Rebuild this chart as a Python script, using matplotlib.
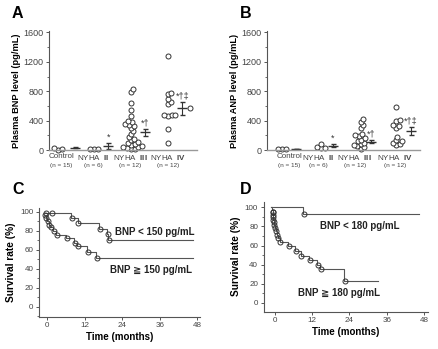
import numpy as np
import matplotlib
matplotlib.use('Agg')
import matplotlib.pyplot as plt
from matplotlib.ticker import MultipleLocator

plt.rcParams['font.family'] = ['Liberation Sans', 'DejaVu Sans']
plt.rcParams['mathtext.fontset'] = 'custom'
plt.rcParams['mathtext.rm'] = 'Liberation Sans'
plt.rcParams['mathtext.bf'] = 'Liberation Sans:bold'

# ---- data ----
grade = ['', 'II', 'III', 'IV']
n_labels = ['(n = 15)', '(n = 6)', '(n = 12)', '(n = 12)']
marks = ['', '*', '*\u2020', '*\u2020\u2021']

bnp_control = [5, 12, 25]
bnp_nyha2 = [8, 12, 18]
bnp_nyha3 = [835, 790, 640, 545, 460, 400, 380, 360, 345, 330, 300, 260, 220,
             175, 150, 130, 110, 100, 80, 70, 55, 45, 35, 25, 15, 10]
bnp_nyha4 = [1280, 780, 760, 690, 650, 630, 480, 470, 470, 460, 290, 90]
bnp_nyha4_extra = [570]
bnp_mean = [30, 55, 240, 565]
bnp_se = [8, 35, 43, 85]

anp_control = [8, 12, 18]
anp_nyha2 = [85, 35, 30, 25]
anp_nyha3 = [420, 380, 340, 300, 220, 200, 185, 160, 140, 120, 100, 85,
             65, 50, 40, 20]
anp_nyha4 = [580, 410, 395, 340, 320, 300, 180, 130, 120, 100, 80, 70]
anp_mean = [15, 55, 115, 255]
anp_se = [5, 20, 15, 55]

# Kaplan-Meier: start level, drop times, levels after drops, censor times
c_hi_start, c_hi_end = -0.6, 46.6
c_hi_drops = [7.6, 9.7, 16.6, 19.2, 19.5]
c_hi_levels = [99, 93, 88, 82, 77, 70]
c_hi_censor = [-0.4, 1.5, 7.8, 10.0, 16.9, 19.3, 19.6]

c_lo_start, c_lo_end = -0.9, 46.6
c_lo_drops = [-0.5, 0.0, 0.5, 1.0, 2.0, 2.9, 5.9, 8.5, 9.5, 12.6, 15.7]
c_lo_levels = [97, 93.5, 90, 86.5, 83.5, 79.5, 75.5, 72, 67.5, 64, 58, 51.5]
c_lo_censor = [-0.8, -0.3, 0.2, 0.7, 1.2, 2.2, 3.1, 6.2, 8.8, 9.8, 13.0, 16.0]

d_hi_start, d_hi_end = -1.0, 46.3
d_hi_drops = [9.2]
d_hi_levels = [100, 93]
d_hi_censor = [9.4]

d_lo_start, d_lo_end = -1.0, 33.2
d_lo_drops = [-0.7, -0.65, -0.6, -0.45, -0.4, -0.25, -0.2, 0.05, 0.35, 0.8,
              1.15, 1.6, 4.3, 6.6, 8.4, 11.0, 13.7, 14.7, 22.3]
d_lo_levels = [100, 97.5, 94.7, 92.3, 89.8, 87, 84.2, 81.5, 78.3, 74.8, 71.3,
               67.8, 64.2, 60, 54, 49.5, 45, 39.7, 35, 23]
d_lo_censor = [-0.64, -0.62, -0.58, -0.42, -0.38, -0.22, -0.18, 0.1, 0.4,
               0.85, 1.2, 1.7, 4.5, 6.8, 8.6, 11.3, 14.0, 14.9, 22.5]

ink = '#333333'
msize = 3.6


def swarm(ax, x0, values, diam=3.9):
    # simple beeswarm in display space (circles may overlap a little)
    tr = ax.transData
    pts = tr.transform([(x0, v) for v in values])
    placed = []
    for px, py in sorted(pts, key=lambda p: p[1]):
        cands = [0.0]
        for qx, qy in placed:
            dy = py - qy
            if abs(dy) < diam:
                dx = np.sqrt(diam ** 2 - dy ** 2)
                cands += [qx - px + dx, qx - px - dx]
        cands.sort(key=abs)
        for c in cands:
            ok = all((px + c - qx) ** 2 + (py - qy) ** 2 >= diam ** 2 - 1e-6
                     for qx, qy in placed)
            if ok:
                placed.append((px + c, py))
                break
    xy = tr.inverted().transform(placed)
    ax.plot(xy[:, 0], xy[:, 1], 'o', ms=msize, mfc='white', mec=ink,
            mew=0.7, clip_on=False)


def scatter_panel(ax, groups, means, ses, xs, xm, xl, xmax, ylabel, extra=None):
    ax.set_xlim(0, xmax)
    ax.set_ylim(0, 1620)
    for x0, vals in zip(xs, groups):
        swarm(ax, x0, vals)
    if extra is not None:
        ax.plot(extra[0], extra[1], 'o', ms=msize, mfc='white', mec=ink, mew=0.7)
    ax.errorbar(xm, means, yerr=ses, fmt='_', ms=6.5, mew=1.0, color=ink,
                elinewidth=0.8, capsize=1.8, capthick=0.8)
    for x, m, s, mk in zip(xm, means, ses, marks):
        if mk:
            ax.annotate(mk, (x, m + s), xytext=(0, 1.5), textcoords='offset points',
                        ha='center', va='bottom', fontsize=6.5, color=ink)
    for x, g, n in zip(xl, grade, n_labels):
        lab = 'Control' if not g else 'NYHA  $\\mathbf{%s}$' % g
        ax.annotate(lab, (x, 0), xycoords=('data', 'axes fraction'),
                    xytext=(0, -2.5), textcoords='offset points', ha='center',
                    va='top', fontsize=5.8, color='#444444')
        ax.annotate(n, (x, 0), xycoords=('data', 'axes fraction'),
                    xytext=(0, -9.5), textcoords='offset points', ha='center',
                    va='top', fontsize=4.6, color='#444444')
    ax.spines[['top', 'right']].set_visible(False)
    ax.spines['left'].set_color('#555555')
    ax.spines['bottom'].set_color('#999999')
    ax.spines['left'].set_linewidth(0.8)
    ax.spines['bottom'].set_linewidth(1.0)
    ax.set_xticks([])
    ax.set_yticks([0, 400, 800, 1200, 1600])
    ax.yaxis.set_minor_locator(MultipleLocator(200))
    ax.tick_params(axis='y', which='major', length=2.5, width=0.7, pad=1.5,
                   labelsize=6.5, colors='#555555', labelcolor='#444444')
    ax.tick_params(axis='y', which='minor', length=1.5, width=0.6, colors='#555555')
    ax.set_ylabel(ylabel, fontsize=6.7, fontweight='bold', labelpad=2)


def km(ax, start, end, drops, levels, censor):
    t = [start] + list(drops) + [end]
    s = list(levels) + [levels[-1]]
    ax.step(t, s, where='post', color='#555555', lw=0.8)
    idx = np.searchsorted(drops, censor, side='right')
    ax.plot(censor, np.array(levels)[idx], 'o', ms=msize, mfc='none', mec=ink,
            mew=0.7)


def km_axes(ax, xlim, ylim):
    ax.set_xlim(*xlim)
    ax.set_ylim(*ylim)
    ax.spines[['top', 'right']].set_visible(False)
    for sp in ['left', 'bottom']:
        ax.spines[sp].set_color('#555555')
        ax.spines[sp].set_linewidth(0.8)
    ax.set_xticks([0, 12, 24, 36, 48])
    ax.set_yticks([0, 20, 40, 60, 80, 100])
    ax.yaxis.set_minor_locator(MultipleLocator(10))
    ax.tick_params(which='major', length=2.5, width=0.7, pad=1.5, labelsize=5.8,
                   colors='#555555', labelcolor='#444444')
    ax.tick_params(which='minor', length=1.5, width=0.6, colors='#555555')
    ax.set_ylabel('Survival rate (%)', fontsize=7.3, fontweight='bold', labelpad=3)
    ax.set_xlabel('Time (months)', fontsize=7, fontweight='bold', labelpad=2)


fig = plt.figure(figsize=(4.38, 3.49), dpi=100)
W, H = 438.0, 349.0

axA = fig.add_axes([49 / W, 1 - 150 / H, 148 / W, 119 / H])
scatter_panel(axA, [bnp_control, bnp_nyha2, bnp_nyha3, bnp_nyha4], bnp_mean, bnp_se,
              [0.24, 1.25, 2.27, 3.3], [0.72, 1.65, 2.68, 3.7],
              [0.35, 1.23, 2.25, 3.31], 148 / 36,
              'Plasma BNP level (pg/mL)', extra=([3.92], bnp_nyha4_extra))

axB = fig.add_axes([267 / W, 1 - 150 / H, 153 / W, 119 / H])
scatter_panel(axB, [anp_control, anp_nyha2, anp_nyha3, anp_nyha4], anp_mean, anp_se,
              [0.42, 1.5, 2.6, 3.58], [0.8, 1.83, 2.9, 4.0],
              [0.63, 1.42, 2.44, 3.55], 153 / 36,
              'Plasma ANP level (pg/mL)')

axC = fig.add_axes([39 / W, 1 - 316.7 / H, 161 / W, 108.4 / H])
km_axes(axC, (-2.6, 48.8), (-10.5, 103.6))
km(axC, c_hi_start, c_hi_end, c_hi_drops, c_hi_levels, c_hi_censor)
km(axC, c_lo_start, c_lo_end, c_lo_drops, c_lo_levels, c_lo_censor)
axC.text(21.6, 79, 'BNP < 150 pg/mL', fontsize=7, fontweight='bold',
         va='center', ha='left', color='#222222')
axC.text(20.0, 38.6, 'BNP \u2267 150 pg/mL', fontsize=7, fontweight='bold',
         va='center', ha='left', color='#222222')

axD = fig.add_axes([263.7 / W, 1 - 311.7 / H, 164.3 / W, 110 / H])
km_axes(axD, (-3.5, 49.2), (-9.5, 106))
km(axD, d_hi_start, d_hi_end, d_hi_drops, d_hi_levels, d_hi_censor)
km(axD, d_lo_start, d_lo_end, d_lo_drops, d_lo_levels, d_lo_censor)
axD.text(14.4, 80, 'BNP < 180 pg/mL', fontsize=7, fontweight='bold',
         va='center', ha='left', color='#222222')
axD.text(7.5, 9.9, 'BNP \u2267 180 pg/mL', fontsize=7, fontweight='bold',
         va='center', ha='left', color='#222222')

for lab, x, y in [('A', 12, 14), ('B', 240, 14), ('C', 12, 190), ('D', 240, 190)]:
    fig.text(x / W, 1 - y / H, lab, fontsize=11.5, fontweight='bold',
             va='center', ha='left')

fig.savefig('out.png', dpi=100)
